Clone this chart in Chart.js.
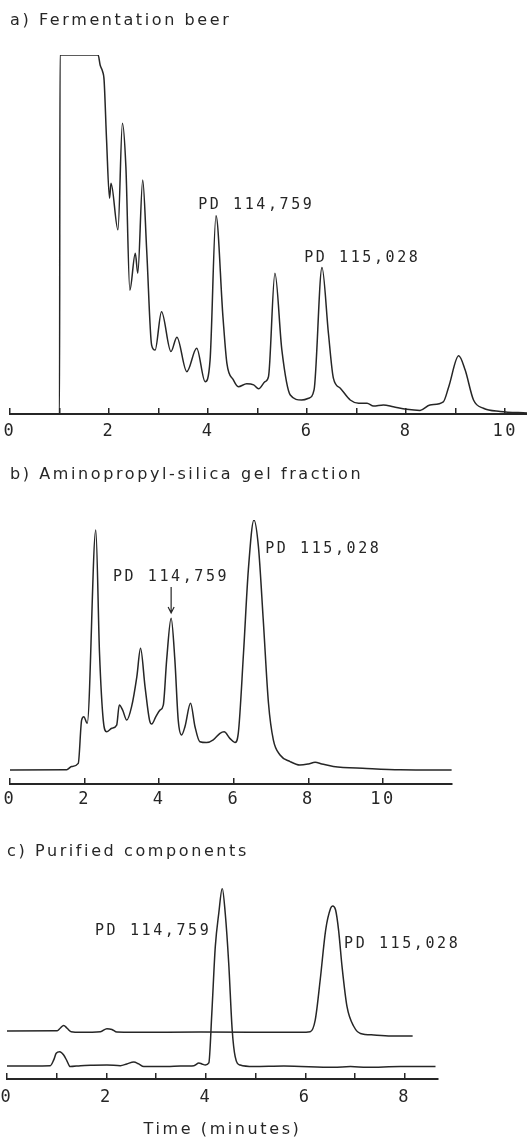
<!DOCTYPE html>
<html>
<head>
<meta charset="utf-8">
<script src="https://cdn.jsdelivr.net/npm/chart.js@4"></script>
<style>
  body { margin: 0; background: #fff; }
  #fig { position: relative; width: 527px; height: 1139px; }
  #fig canvas { position: absolute; left: 0; }
</style>
</head>
<body>
<div id="fig">
  <canvas id="chartA" width="527" height="450" style="top:0"></canvas>
  <canvas id="chartB" width="527" height="370" style="top:450px"></canvas>
  <canvas id="chartC" width="527" height="319" style="top:820px"></canvas>
</div>
<script>
// a) fermentation beer
const timeA = [0, 1.0, 1.01, 1.78, 1.82, 1.87, 1.90, 1.95, 2.01, 2.04, 2.18, 2.27, 2.34, 2.42, 2.53, 2.58,
    2.68, 2.76, 2.86, 2.93, 3.06, 3.25, 3.37, 3.57, 3.77, 3.94, 4.04, 4.16, 4.30, 4.38, 4.51, 4.61,
    4.78, 4.92, 5.02, 5.15, 5.22, 5.35, 5.49, 5.66, 5.89, 6.03, 6.14, 6.30, 6.43, 6.53, 6.67, 6.87,
    7.04, 7.21, 7.34, 7.54, 7.74, 8.01, 8.28, 8.48, 8.75, 8.86, 9.06, 9.19, 9.36, 9.56, 9.90, 10.44];
const signalA = [0, 0, 100, 100, 97.2, 95.4, 93, 76.3, 60.1, 64.3, 51.3, 81.0, 68.9, 34.5, 44.8, 39.2,
    65.2, 45.7, 19.2, 17.8, 28.5, 17.4, 21.4, 11.8, 18.3, 9.0, 15.0, 55.2, 27.1, 14.1, 9.5, 7.6,
    8.4, 8.1, 7.0, 9.0, 10.4, 39.2, 17.8, 5.3, 3.9, 4.4, 6.7, 40.8, 22.5, 10.0, 7.2, 3.9,
    3.0, 3.0, 2.2, 2.5, 2.0, 1.3, 1.0, 2.5, 3.4, 7.6, 16.2, 12.3, 3.9, 1.6, 0.7, 0.3];

// b) aminopropyl-silica gel fraction
const timeB = [0, 1.52, 1.65, 1.83, 1.92, 1.98, 2.07, 2.30, 2.40, 2.50, 2.59, 2.73, 2.86, 2.93, 3.02,
    3.13, 3.26, 3.40, 3.50, 3.62, 3.74, 3.80, 3.91, 4.02, 4.11, 4.20, 4.32, 4.42, 4.51, 4.60, 4.69,
    4.84, 4.96, 5.09, 5.27, 5.45, 5.63, 5.74, 5.90, 6.03, 6.12, 6.26, 6.39, 6.54, 6.66, 6.79, 6.93,
    7.06, 7.24, 7.51, 7.77, 8.00, 8.18, 8.36, 8.67, 9.56, 10.46, 11.84];
const signalB = [5.3, 5.4, 6.6, 7.8, 24.2, 25.5, 23.0, 96.2, 49.5, 24.2, 19.8, 21.1, 22.3, 29.9, 28.0,
    24.2, 29.3, 40.6, 51.4, 36.9, 24.2, 22.7, 25.5, 28.0, 29.9, 47.0, 62.8, 47.0, 24.2, 18.6, 21.7,
    30.6, 21.7, 16.0, 15.7, 16.7, 19.2, 19.8, 17.2, 15.7, 19.2, 49.5, 81.1, 100, 89.9, 62.1, 30.6,
    16.7, 11.0, 8.5, 7.2, 7.6, 8.2, 7.6, 6.6, 5.9, 5.4, 5.3];

// c) purified components, upper trace PD 115,028
const timeC115 = [0, 1.01, 1.07, 1.14, 1.21, 1.29, 1.48, 1.88, 2.01, 2.11, 2.21, 2.55, 3.89, 5.90, 6.10,
    6.20, 6.30, 6.41, 6.51, 6.55, 6.61, 6.67, 6.74, 6.84, 6.98, 7.11, 7.38, 7.78, 8.16];
const signalC115 = [25.2, 25.3, 26.6, 28.1, 26.6, 24.8, 24.5, 24.8, 26.4, 26.0, 24.6, 24.5, 24.6, 24.5, 24.8,
    30.9, 51.9, 78.1, 89.5, 90.7, 88.6, 78.1, 58.9, 37.9, 27.4, 23.9, 23.1, 22.5, 22.5];

// c) lower trace PD 114,759
const timeC114 = [0, 0.87, 0.94, 0.99, 1.06, 1.14, 1.21, 1.27, 1.48, 1.74, 2.01, 2.28, 2.41, 2.55, 2.65,
    2.75, 3.22, 3.49, 3.76, 3.86, 3.92, 3.99, 4.06, 4.12, 4.19, 4.26, 4.33, 4.39, 4.46, 4.53, 4.59,
    4.69, 4.96, 5.57, 6.57, 6.91, 7.24, 7.91, 8.62];
const signalC114 = [6.8, 7.0, 10.0, 13.5, 14.3, 12.6, 9.3, 6.5, 7.0, 7.2, 7.3, 7.0, 7.9, 8.9, 7.9,
    6.5, 6.5, 6.8, 7.0, 8.4, 7.9, 7.3, 8.4, 34.4, 69.4, 86.9, 100, 86.9, 60.7, 25.7, 11.7,
    7.3, 6.5, 6.8, 6.1, 6.5, 6.1, 6.5, 6.5];

const tickLabelsA = [0, 2, 4, 6, 8, 10];
const tickLabelsB = [0, 2, 4, 6, 8, 10];
const tickLabelsC = [0, 2, 4, 6, 8];

const ink = '#262626';

const points = (xs, ys) => xs.map((x, i) => ({x: x, y: ys[i]}));

// typed-label look: wide letter spacing for all text on the figure
const spacing = {
    id: 'spacing',
    beforeDraw(chart) {
        chart.ctx.letterSpacing = '2.6px';
    }
};

// peak labels and arrows placed in data coordinates
const annotate = {
    id: 'annotate',
    afterDatasetsDraw(chart, args, opts) {
        const {ctx} = chart;
        const x = chart.scales.x, y = chart.scales.y;
        ctx.save();
        ctx.font = '15px "DejaVu Sans Mono"';
        ctx.fillStyle = ink;
        ctx.strokeStyle = ink;
        ctx.textAlign = 'left';
        ctx.textBaseline = 'alphabetic';
        (opts.labels || []).forEach(l => {
            ctx.fillText(l.text, x.getPixelForValue(l.x), y.getPixelForValue(l.y));
        });
        (opts.arrows || []).forEach(a => {
            const px = x.getPixelForValue(a.x);
            const top = y.getPixelForValue(a.from);
            const tip = y.getPixelForValue(a.to);
            ctx.lineWidth = 1.2;
            ctx.beginPath();
            ctx.moveTo(px, top);
            ctx.lineTo(px, tip);
            ctx.moveTo(px - 3, tip - 6);
            ctx.lineTo(px, tip);
            ctx.lineTo(px + 3, tip - 6);
            ctx.stroke();
        });
        ctx.restore();
    }
};

function panel(id, cfg) {
    return new Chart(document.getElementById(id), {
        type: 'line',
        data: {
            datasets: cfg.series.map(s => ({
                data: s,
                borderColor: ink,
                borderWidth: 1.5,
                pointRadius: 0,
                cubicInterpolationMode: 'monotone',
                fill: false
            }))
        },
        options: {
            responsive: false,
            animation: false,
            devicePixelRatio: 1,
            layout: {
                autoPadding: false,
                padding: {left: cfg.left, right: cfg.right, top: 0, bottom: 0}
            },
            plugins: {
                legend: {display: false},
                tooltip: {enabled: false},
                title: {
                    display: true,
                    text: cfg.title,
                    align: 'start',
                    color: ink,
                    font: {family: '"DejaVu Sans"', size: 16, weight: 'normal'},
                    padding: cfg.titlePadding
                },
                annotate: cfg.notes
            },
            scales: {
                x: {
                    type: 'linear',
                    min: 0,
                    max: cfg.max,
                    border: {display: true, color: ink, width: 2},
                    grid: {display: true, drawOnChartArea: false, drawTicks: true, tickLength: -6, color: ink, lineWidth: 1.5},
                    ticks: {
                        stepSize: cfg.step,
                        includeBounds: false,
                        maxRotation: 0,
                        autoSkip: false,
                        padding: cfg.tickPadding,
                        color: ink,
                        font: {family: '"DejaVu Sans Mono"', size: 17},
                        callback: v => cfg.labels.includes(v) ? String(v) : ''
                    },
                    title: {
                        display: !!cfg.axisTitle,
                        text: cfg.axisTitle || '',
                        color: ink,
                        font: {family: '"DejaVu Sans"', size: 16},
                        padding: {top: 0, bottom: 0}
                    },
                    afterFit: s => {
                        s.height = cfg.axisHeight;
                        s.paddingLeft = 0;
                        s.paddingRight = 0;
                    }
                },
                y: {display: false, min: 0, max: 100}
            }
        },
        plugins: [spacing, annotate]
    });
}

panel('chartA', {
    title: 'a) Fermentation beer',
    titlePadding: {top: 10.9, bottom: 24.9},
    left: 10, right: 0, max: 10.44, step: 1,
    labels: tickLabelsA, tickPadding: 13.3, axisHeight: 36,
    series: [points(timeA, signalA)],
    notes: {labels: [
        {text: 'PD 114,759', x: 3.80, y: 57.1},
        {text: 'PD 115,028', x: 5.94, y: 42.3}
    ]}
});

panel('chartB', {
    title: 'b) Aminopropyl-silica gel fraction',
    titlePadding: {top: 14.9, bottom: 35.9},
    left: 10, right: 75, max: 11.85, step: 2,
    labels: tickLabelsB, tickPadding: 11.8, axisHeight: 36,
    series: [points(timeB, signalB)],
    notes: {
        labels: [
            {text: 'PD 114,759', x: 2.76, y: 76.9},
            {text: 'PD 115,028', x: 6.84, y: 87.5}
        ],
        arrows: [{x: 4.32, from: 74.6, to: 64.8}]
    }
});

panel('chartC', {
    title: 'c) Purified components',
    titlePadding: {top: 21.9, bottom: 27.2},
    left: 7, right: 89, max: 8.67, step: 1,
    labels: tickLabelsC, tickPadding: 14.3, axisHeight: 60,
    axisTitle: 'Time (minutes)',
    series: [points(timeC115, signalC115), points(timeC114, signalC114)],
    notes: {labels: [
        {text: 'PD 114,759', x: 1.77, y: 75.5},
        {text: 'PD 115,028', x: 6.78, y: 68.7}
    ]}
});
</script>
</body>
</html>
